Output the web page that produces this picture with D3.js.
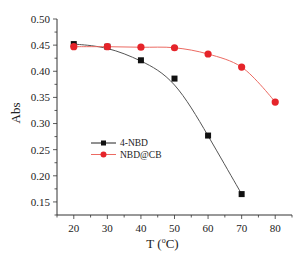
<!DOCTYPE html>
<html>
<head>
<meta charset="utf-8">
<script src="https://cdn.jsdelivr.net/npm/d3@7"></script>
<style>
  body { margin: 0; background: #fff; }
  svg { display: block; font-family: "Liberation Serif", "DejaVu Serif", serif; }
</style>
</head>
<body>
<div id="chart"></div>
<script>
// Data
const tempNBD = [20, 30, 40, 50, 60, 70];
const absNBD = [0.452, 0.447, 0.421, 0.386, 0.277, 0.165];
const tempCB = [20, 30, 40, 50, 60, 70, 80];
const absCB = [0.447, 0.447, 0.446, 0.445, 0.433, 0.408, 0.341];
const xTicks = [20, 30, 40, 50, 60, 70, 80];
const yTicks = [0.15, 0.20, 0.25, 0.30, 0.35, 0.40, 0.45, 0.50];

const W = 304, H = 256;
const margin = { top: 19, right: 12, bottom: 41, left: 57 };

const svg = d3.select('#chart').append('svg')
  .attr('width', W).attr('height', H);

const x = d3.scaleLinear().domain([15, 85]).range([margin.left, W - margin.right]);
const y = d3.scaleLinear().domain([0.125, 0.5]).range([H - margin.bottom, margin.top]);

const axisColor = '#333';

// X axis with minor ticks
const xMinor = d3.range(15, 86, 5);
const gx = svg.append('g').attr('transform', `translate(0,${H - margin.bottom})`);
gx.append('line').attr('x1', margin.left).attr('x2', W - margin.right)
  .attr('stroke', axisColor).attr('stroke-width', 1);
xMinor.forEach(v => {
  const major = xTicks.includes(v);
  gx.append('line').attr('x1', x(v)).attr('x2', x(v))
    .attr('y1', 0).attr('y2', major ? 4 : 2.5)
    .attr('stroke', axisColor).attr('stroke-width', 0.8);
});
xTicks.forEach(v => {
  gx.append('text').attr('x', x(v)).attr('y', 17)
    .attr('text-anchor', 'middle').attr('font-size', 11).attr('fill', '#222')
    .text(v);
});

// Y axis with minor ticks
const yMinor = d3.range(0.125, 0.5001, 0.025);
const gy = svg.append('g').attr('transform', `translate(${margin.left},0)`);
gy.append('line').attr('y1', y(0.125)).attr('y2', y(0.5))
  .attr('stroke', axisColor).attr('stroke-width', 1);
yMinor.forEach(v => {
  const major = yTicks.some(t => Math.abs(t - v) < 1e-6);
  gy.append('line').attr('y1', y(v)).attr('y2', y(v))
    .attr('x1', 0).attr('x2', major ? -4 : -2.5)
    .attr('stroke', axisColor).attr('stroke-width', 0.8);
});
yTicks.forEach(v => {
  gy.append('text').attr('x', -7).attr('y', y(v)).attr('dy', '0.35em')
    .attr('text-anchor', 'end').attr('font-size', 11).attr('fill', '#222')
    .text(v.toFixed(2));
});

// Axis titles
svg.append('text')
  .attr('transform', `translate(20,${(y(0.125) + y(0.5)) / 2 - 4}) rotate(-90)`)
  .attr('text-anchor', 'middle').attr('font-size', 13).attr('fill', '#222')
  .text('Abs');
const xt = svg.append('text')
  .attr('x', x(50) - 12).attr('y', 248)
  .attr('text-anchor', 'middle').attr('font-size', 13).attr('fill', '#222');
xt.append('tspan').text('T (');
xt.append('tspan').attr('font-size', 8).attr('dy', -5).text('o');
xt.append('tspan').attr('dy', 5).text('C)');

// Series
const nbd = tempNBD.map((t, i) => ({ t, a: absNBD[i] }));
const cb = tempCB.map((t, i) => ({ t, a: absCB[i] }));

const black = '#111';
const red = '#e5242a';

svg.append('path').datum(nbd)
  .attr('d', d3.line().x(d => x(d.t)).y(d => y(d.a)).curve(d3.curveBasis))
  .attr('fill', 'none').attr('stroke', '#555').attr('stroke-width', 1);
svg.append('path').datum(cb)
  .attr('d', d3.line().x(d => x(d.t)).y(d => y(d.a)).curve(d3.curveCatmullRom))
  .attr('fill', 'none').attr('stroke', '#ec6a62').attr('stroke-width', 1);

svg.selectAll('.sq').data(nbd).join('rect')
  .attr('x', d => x(d.t) - 3).attr('y', d => y(d.a) - 3)
  .attr('width', 6).attr('height', 6).attr('fill', black);
svg.selectAll('.ci').data(cb).join('circle')
  .attr('cx', d => x(d.t)).attr('cy', d => y(d.a))
  .attr('r', 3.6).attr('fill', red);

// Legend
const legend = [
  { label: '4-NBD', line: '#222', fill: black, shape: 'square' },
  { label: 'NBD@CB', line: '#ec6a62', fill: red, shape: 'circle' }
];
legend.forEach((l, i) => {
  const ly = 143 + i * 11.5;
  svg.append('line').attr('x1', 91).attr('x2', 116).attr('y1', ly).attr('y2', ly)
    .attr('stroke', l.line).attr('stroke-width', 1);
  if (l.shape === 'square') {
    svg.append('rect').attr('x', 103.5 - 2.5).attr('y', ly - 2.5)
      .attr('width', 5).attr('height', 5).attr('fill', l.fill);
  } else {
    svg.append('circle').attr('cx', 103.5).attr('cy', ly).attr('r', 3).attr('fill', l.fill);
  }
  svg.append('text').attr('x', 120).attr('y', ly).attr('dy', '0.35em')
    .attr('font-size', 9.5).attr('fill', '#222').text(l.label);
});
</script>
</body>
</html>
